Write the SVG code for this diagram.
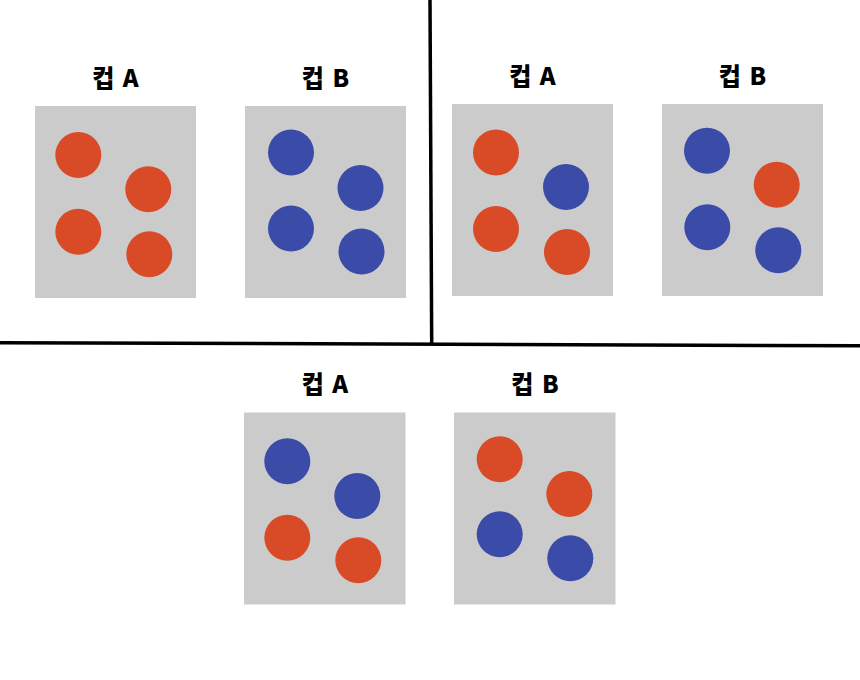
<svg xmlns="http://www.w3.org/2000/svg" width="860" height="680" viewBox="0 0 860 680">
<style>
.cup{fill:#cbcbcb}
.r{fill:#d94a26}
.b{fill:#3b4ba8}
.lbl{font-family:"Noto Sans CJK KR","Noto Sans",sans-serif;font-weight:900;font-size:24px;word-spacing:3px;fill:#000;text-anchor:middle}
.div{stroke:#000;stroke-width:3.5;fill:none}
</style>
<rect width="860" height="680" fill="#fff"/>
<g id="dividers">
<line class="div" x1="430" y1="0" x2="431.7" y2="344"/>
<line class="div" x1="0" y1="342.7" x2="860" y2="345.8"/>
</g>
<g id="p1-cupA">
<text class="lbl" x="115.5" y="86.5">컵 A</text>
<rect class="cup" x="35" y="106" width="161" height="192"/>
<circle class="r" cx="78.3" cy="155" r="23"/>
<circle class="r" cx="148.3" cy="189.3" r="23"/>
<circle class="r" cx="78.3" cy="231.7" r="23"/>
<circle class="r" cx="149.3" cy="254.3" r="23"/>
</g>
<g id="p1-cupB">
<text class="lbl" x="325.5" y="86.5">컵 B</text>
<rect class="cup" x="245" y="106" width="161" height="192"/>
<circle class="b" cx="291" cy="152.5" r="23"/>
<circle class="b" cx="360.5" cy="188" r="23"/>
<circle class="b" cx="291" cy="228.5" r="23"/>
<circle class="b" cx="361.5" cy="251.5" r="23"/>
</g>
<g id="p2-cupA">
<text class="lbl" x="532.5" y="85">컵 A</text>
<rect class="cup" x="452" y="104" width="161" height="192"/>
<circle class="r" cx="496" cy="152.5" r="23"/>
<circle class="b" cx="566" cy="187" r="23"/>
<circle class="r" cx="496" cy="229" r="23"/>
<circle class="r" cx="567" cy="252" r="23"/>
</g>
<g id="p2-cupB">
<text class="lbl" x="742.5" y="85">컵 B</text>
<rect class="cup" x="662" y="104" width="161" height="192"/>
<circle class="b" cx="707" cy="150.7" r="23"/>
<circle class="r" cx="776.7" cy="184.7" r="23"/>
<circle class="b" cx="707.3" cy="227.3" r="23"/>
<circle class="b" cx="778.3" cy="250.3" r="23"/>
</g>
<g id="p3-cupA">
<text class="lbl" x="325" y="392.5">컵 A</text>
<rect class="cup" x="244" y="412.5" width="161.5" height="192"/>
<circle class="b" cx="287.3" cy="461.3" r="23"/>
<circle class="b" cx="357.3" cy="496" r="23"/>
<circle class="r" cx="287.3" cy="537.7" r="23"/>
<circle class="r" cx="358.3" cy="560.3" r="23"/>
</g>
<g id="p3-cupB">
<text class="lbl" x="535" y="392.5">컵 B</text>
<rect class="cup" x="454" y="412.5" width="161.5" height="192"/>
<circle class="r" cx="499.7" cy="459.3" r="23"/>
<circle class="r" cx="569.3" cy="494" r="23"/>
<circle class="b" cx="499.7" cy="534.3" r="23"/>
<circle class="b" cx="570.3" cy="558.3" r="23"/>
</g>
</svg>
